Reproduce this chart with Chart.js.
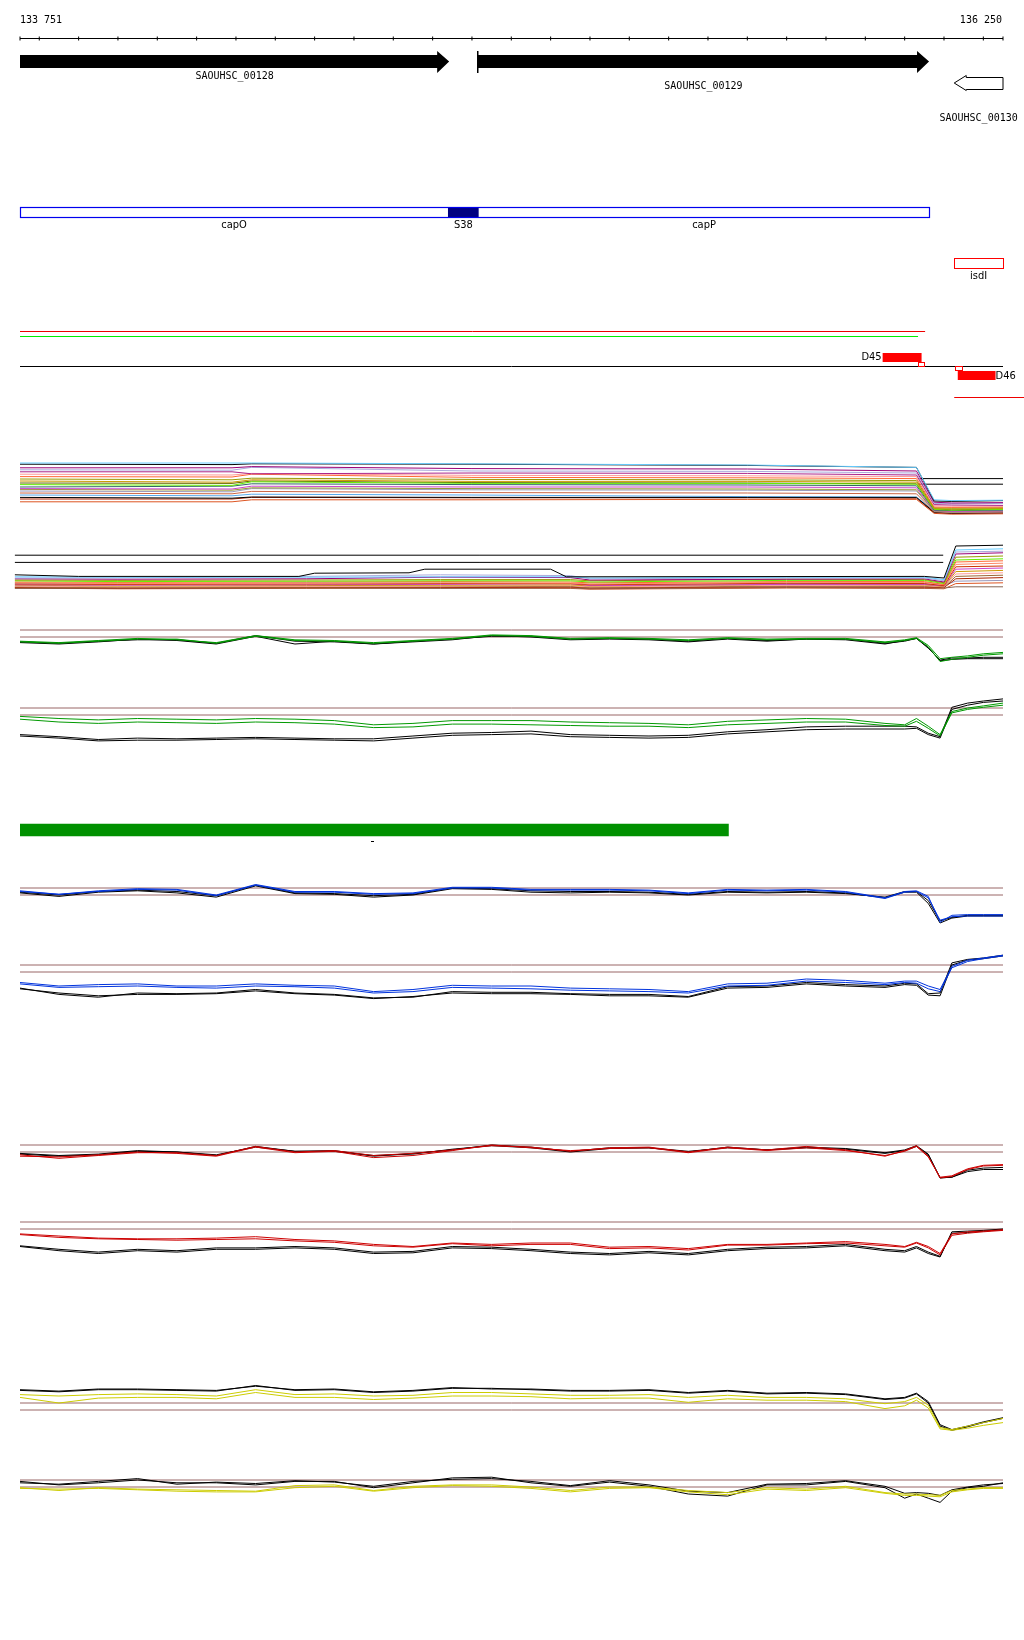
<!DOCTYPE html>
<html>
<head>
<meta charset="utf-8">
<script src="https://cdn.jsdelivr.net/npm/chart.js@4"></script>
<style>
  body { margin: 0; background: #fff; width: 1024px; height: 1640px; position: relative; overflow: hidden; }
  canvas { position: absolute; left: 0; }
</style>
</head>
<body>
<canvas id="topView" width="1024" height="420" style="top:0"></canvas>
<canvas id="bundle1" width="1024" height="68" style="top:451px"></canvas>
<canvas id="bundle2" width="1024" height="56" style="top:538px"></canvas>
<canvas id="g1" width="1024" height="70" style="top:602px"></canvas>
<canvas id="g2" width="1024" height="70" style="top:680px"></canvas>
<canvas id="hitBar" width="1024" height="36" style="top:812px"></canvas>
<canvas id="bl1" width="1024" height="70" style="top:860px"></canvas>
<canvas id="bl2" width="1024" height="70" style="top:937px"></canvas>
<canvas id="r1" width="1024" height="70" style="top:1117px"></canvas>
<canvas id="r2" width="1024" height="70" style="top:1194px"></canvas>
<canvas id="y1" width="1024" height="70" style="top:1375px"></canvas>
<canvas id="y2" width="1024" height="70" style="top:1452px"></canvas>
<script>
// Region shown
const rangeStart = 133751;
const rangeEnd = 136250;
const rulerLabels = ['133 751', '136 250'];
const rulerTicks = [133751, 133800, 133900, 134000, 134100, 134200, 134300, 134400, 134500, 134600,
  134700, 134800, 134900, 135000, 135100, 135200, 135300, 135400, 135500, 135600, 135700,
  135800, 135900, 136000, 136100, 136200, 136250];

// Genes
const geneNames = ['SAOUHSC_00128', 'SAOUHSC_00129', 'SAOUHSC_00130'];
const geneStart = [133751, 134915, 136126];
const geneEnd = [134842, 136062, 136250];
const geneStrand = ['+', '+', '-'];

// Features (cap operon + S38 + isdI)
const featNames = ['capO', 'S38', 'capP'];
const featStart = [133751, 134839, 134917];
const featEnd = [134839, 134917, 136063];
const isdName = 'isdI';
const isdStart = 136126;
const isdEnd = 136250;

// Transcripts
const tssNames = ['D45', 'D46'];
const tssStart = [135944, 136135];
const tssEnd = [136043, 136231];
const tssMarkStart = [136034, 136128];
const tssMarkEnd = [136050, 136145];
const redSpan = [133751, 136052];
const greenSpan = [133751, 136034];
const blackSpan = [133751, 136250];
const redLowSpan = [136126, 136304];

// Green hit bar
const hitSpan = [133751, 135552];
const hitMark = 134646;

// Multi-sample bundles
const b1Pos = [133751, 134290, 134340, 134900, 135600, 136030, 136075, 136120, 136250];
const b1Colors = ['#66ccff', '#000000', '#990077', '#aaaadd', '#aa2288', '#ff9999', '#ff6633', '#999900', '#cc9900', '#66ee00',
  '#336666', '#cc44cc', '#999933', '#9999bb', '#cc6644', '#000000', '#aa2200', '#55aaee', '#dd5522', '#666600'];
const b1Lines = [
  [11, 11, 11, 10.8, 10.5, 9.9, 1.8, 1.6, 1.7],
  [10.7, 10.6, 10.8, 10.7, 10.4, 9.9, 1.5, 1.4, 1.6],
  [9.8, 9.8, 10.1, 9.6, 9.5, 9.0, 1.2, 1.0, 1.1],
  [9.3, 9.2, 9.9, 9.0, 8.9, 8.5, 0.9, 0.8, 0.9],
  [8.8, 8.8, 8.3, 8.5, 8.4, 8.0, 0.6, 0.5, 0.4],
  [8.2, 8.0, 8.4, 7.9, 7.8, 7.6, 0.3, 0.2, 0.2],
  [7.6, 7.5, 8.2, 7.4, 7.3, 7.1, 0.0, -0.1, 0],
  [7.0, 6.8, 7.2, 6.9, 6.8, 6.6, -0.2, -0.3, -0.2],
  [6.5, 6.2, 6.8, 6.4, 6.4, 6.2, -0.4, -0.5, -0.4],
  [5.6, 5.4, 6.3, 5.9, 5.9, 5.7, -0.6, -0.8, -0.6],
  [5.0, 5.2, 5.8, 5.6, 5.5, 5.3, -0.8, -0.9, -0.8],
  [4.6, 4.5, 5.2, 5.0, 5.0, 4.8, -0.9, -1.1, -1.0],
  [4.4, 4.2, 4.8, 4.6, 4.5, 4.3, -1.0, -1.2, -1.1],
  [4.0, 3.8, 4.6, 4.3, 4.2, 4.0, -1.1, -1.3, -1.2],
  [3.5, 3.3, 3.9, 3.6, 3.5, 3.3, -1.2, -1.4, -1.3],
  [2.4, 2.2, 2.5, 2.4, 2.4, 2.4, -1.3, -1.5, -1.4],
  [2.0, 2.0, 2.4, 2.3, 2.3, 2.2, -1.4, -1.6, -1.5],
  [3.0, 2.8, 3.2, 3.0, 2.6, 2.5, -1.0, -1.2, -1.1],
  [1.3, 1.3, 1.8, 1.8, 1.9, 1.9, -1.6, -1.8, -1.7],
  [6.0, 5.9, 6.5, 6.1, 6.0, 5.8, -0.5, -0.7, -0.5]
];
const b1RefPos = [136035, 136250];
const b1RefLevels = [7.1, 5.7];

const b2Pos = [133738, 134000, 134480, 134820, 135150, 135200, 135700, 136050, 136100, 136130, 136250];
const b2Colors = ['#66ccff', '#aaaadd', '#990077', '#999900', '#66ee00', '#ff6633', '#ff8866', '#cc3300',
  '#cc44cc', '#cc9900', '#ff9999', '#996633', '#aa2200', '#9999bb', '#886655', '#dd5522'];
const b2Lines = [
  [3.3, 3.2, 3.2, 3.3, 3.3, 3.0, 3.2, 3.2, 2.6, 10.0, 10.3],
  [3.0, 3.0, 3.4, 3.8, 3.6, 2.8, 3.0, 3.0, 2.3, 9.5, 9.7],
  [2.8, 2.7, 2.8, 3.2, 3.1, 2.5, 2.7, 2.8, 2.0, 9.0, 9.3],
  [2.5, 2.4, 2.5, 2.6, 2.6, 2.3, 2.7, 2.6, 1.8, 8.2, 8.5],
  [2.3, 2.1, 2.2, 2.3, 2.3, 2.0, 2.4, 2.4, 1.6, 7.5, 7.8],
  [2.0, 1.9, 2.0, 2.1, 2.0, 1.8, 2.1, 2.1, 1.4, 7.0, 7.3],
  [1.8, 1.6, 1.7, 1.8, 1.7, 1.5, 1.9, 1.9, 1.3, 6.4, 6.7],
  [1.5, 1.4, 1.5, 1.6, 1.6, 1.3, 1.7, 1.6, 1.1, 5.8, 6.0],
  [1.3, 1.2, 1.3, 1.4, 1.6, 1.1, 1.4, 1.4, 1.0, 5.2, 5.5],
  [1.2, 1.0, 1.1, 1.2, 1.3, 1.0, 1.4, 1.3, 0.9, 4.6, 4.9],
  [1.0, 0.8, 0.9, 1.0, 1.1, 0.8, 1.2, 1.1, 0.8, 4.0, 4.3],
  [0.8, 0.6, 0.7, 0.8, 0.9, 0.6, 1.0, 0.9, 0.7, 3.4, 3.7],
  [0.6, 0.5, 0.6, 0.6, 0.7, 0.5, 0.8, 0.7, 0.6, 2.8, 3.1],
  [1.7, 1.5, 1.8, 1.7, 1.6, 1.4, 1.6, 1.6, 1.2, 2.2, 2.4],
  [0.4, 0.4, 0.5, 0.4, 0.5, 0.3, 0.6, 0.5, 0.5, 0.8, 0.8],
  [0.5, 0.3, 0.4, 0.5, 0.4, 0.2, 0.5, 0.4, 0.3, 1.6, 1.8]
];
// top (black) sample of bundle 2, with its bump over capO/capP
const b2TopPos = [133738, 133900, 134460, 134500, 134740, 134780, 135100, 135140, 136050, 136100, 136130, 136250];
const b2TopVals = [3.8, 3.4, 3.4, 4.2, 4.3, 5.2, 5.2, 3.3, 3.4, 3.0, 11.0, 11.2];
const b2RefPos = [133738, 136098];
const b2RefLevels = [8.7, 6.9];

// Condition tracks: shared positions, thresholds at 0 and 1
const gridPos = [133751, 133850, 133950, 134050, 134150, 134250, 134350, 134450, 134550, 134650, 134750,
  134850, 134950, 135050, 135150, 135250, 135350, 135450, 135550, 135650, 135750, 135850, 135950,
  136000, 136030, 136060, 136090, 136120, 136160, 136200, 136250];
const thresholds = [0, 1];

const g1Col1 = [-0.7,-0.9,-0.6,-0.3,-0.3,-0.9,0.1,-0.5,-0.6,-0.9,-0.6,-0.3,0.2,0.1,-0.3,-0.2,-0.3,-0.5,-0.2,-0.4,-0.3,-0.3,-0.8,-0.5,-0.2,-1.4,-3.5,-3.2,-2.9,-2.6,-2.4];
const g1Col2 = [-0.6,-0.8,-0.5,-0.2,-0.4,-0.8,0.2,-0.4,-0.5,-0.8,-0.5,-0.2,0.3,0.2,-0.2,-0.1,-0.2,-0.4,-0.1,-0.3,-0.2,-0.2,-0.7,-0.4,-0.1,-1.2,-3.1,-2.9,-2.7,-2.4,-2.2];
const g1Ref1 = [-0.8,-1.0,-0.7,-0.3,-0.5,-1.0,0.1,-1.0,-0.6,-1.0,-0.7,-0.4,0.2,0.0,-0.4,-0.3,-0.4,-0.7,-0.3,-0.6,-0.3,-0.4,-1.0,-0.5,-0.2,-1.6,-3.3,-3.0,-3.0,-2.9,-2.9];
const g1Ref2 = [-0.7,-0.9,-0.6,-0.4,-0.4,-0.9,0.2,-0.6,-0.7,-1.0,-0.6,-0.3,0.1,0.1,-0.3,-0.2,-0.3,-0.6,-0.2,-0.5,-0.3,-0.3,-0.9,-0.6,-0.2,-1.5,-3.4,-3.2,-3.1,-3.1,-3.1];

const g2Col1 = [-0.2,-0.5,-0.7,-0.5,-0.6,-0.7,-0.5,-0.6,-0.8,-1.4,-1.2,-0.8,-0.8,-0.8,-1.0,-1.1,-1.2,-1.4,-0.9,-0.7,-0.5,-0.6,-1.2,-1.4,-0.5,-1.6,-2.8,0.5,1.0,1.3,1.7];
const g2Col2 = [-0.6,-1.0,-1.2,-1.0,-1.1,-1.2,-1.0,-1.1,-1.3,-1.8,-1.7,-1.3,-1.3,-1.4,-1.5,-1.6,-1.6,-1.8,-1.4,-1.2,-1.0,-1.0,-1.5,-1.6,-0.9,-1.9,-3.0,0.3,0.8,1.1,1.4];
const g2Ref1 = [-2.8,-3.1,-3.5,-3.3,-3.4,-3.3,-3.2,-3.3,-3.4,-3.4,-3.0,-2.6,-2.5,-2.3,-2.8,-2.9,-3.0,-2.9,-2.4,-2.1,-1.7,-1.6,-1.6,-1.6,-1.7,-2.6,-3.1,1.1,1.7,2.0,2.3];
const g2Ref2 = [-3.0,-3.3,-3.7,-3.6,-3.6,-3.5,-3.4,-3.5,-3.6,-3.7,-3.3,-2.9,-2.8,-2.7,-3.1,-3.2,-3.3,-3.2,-2.7,-2.4,-2.1,-2.0,-2.0,-2.0,-1.9,-2.8,-3.3,0.8,1.4,1.8,2.0];

const bl1Col1 = [0.6,0.1,0.6,0.9,0.8,0.0,1.5,0.5,0.5,0.2,0.3,1.1,1.1,0.8,0.8,0.8,0.7,0.3,0.8,0.7,0.8,0.5,-0.4,0.5,0.6,-0.2,-3.9,-2.9,-2.8,-2.8,-2.8];
const bl1Col2 = [0.5,0.1,0.5,0.8,0.7,-0.1,1.4,0.4,0.4,0.1,0.2,1.0,1.0,0.7,0.7,0.7,0.6,0.2,0.7,0.6,0.7,0.4,-0.5,0.4,0.5,-0.4,-3.6,-3.1,-3.0,-3.0,-3.0];
const bl1Ref1 = [0.3,-0.2,0.4,0.6,0.3,-0.3,1.3,0.2,0.1,-0.3,0.0,0.9,0.8,0.4,0.3,0.4,0.3,0.0,0.4,0.3,0.4,0.2,-0.3,0.5,0.5,-0.8,-3.7,-3.2,-2.9,-2.9,-2.9];
const bl1Ref2 = [0.4,0.0,0.5,0.7,0.5,-0.1,1.4,0.3,0.2,-0.1,0.1,1.0,0.9,0.6,0.5,0.5,0.4,0.1,0.5,0.4,0.5,0.3,-0.4,0.4,0.4,-1.2,-4.0,-3.3,-3.0,-3.0,-3.0];

const bl2Col1 = [-1.5,-2.0,-1.8,-1.7,-2.0,-2.0,-1.7,-1.9,-2.0,-2.8,-2.5,-1.9,-2.0,-2.0,-2.3,-2.4,-2.5,-2.8,-1.7,-1.6,-1.0,-1.2,-1.6,-1.3,-1.3,-2.0,-2.5,0.8,1.7,2.0,2.4];
const bl2Col2 = [-1.7,-2.2,-2.1,-2.0,-2.2,-2.3,-2.0,-2.1,-2.3,-3.0,-2.8,-2.2,-2.3,-2.4,-2.6,-2.7,-2.8,-3.0,-2.0,-1.9,-1.3,-1.5,-1.8,-1.5,-1.6,-2.4,-2.8,0.6,1.5,1.9,2.3];
const bl2Ref1 = [-2.3,-3.2,-3.6,-3.0,-3.1,-3.0,-2.5,-3.0,-3.2,-3.7,-3.6,-2.8,-2.9,-2.9,-3.1,-3.2,-3.2,-3.5,-2.1,-2.0,-1.5,-1.8,-2.0,-1.6,-1.7,-3.1,-3.0,1.3,1.8,2.0,2.4];
const bl2Ref2 = [-2.4,-3.0,-3.4,-3.2,-3.2,-3.1,-2.7,-3.1,-3.3,-3.8,-3.5,-3.0,-3.1,-3.1,-3.2,-3.4,-3.4,-3.6,-2.3,-2.2,-1.7,-2.0,-2.2,-1.8,-1.9,-3.3,-3.4,1.0,1.7,1.9,2.3];

const r1Col1 = [-0.4,-0.9,-0.5,-0.1,-0.1,-0.5,0.8,0.0,0.2,-0.5,-0.2,0.3,0.9,0.7,0.1,0.6,0.7,0.0,0.7,0.3,0.8,0.3,-0.6,0.2,0.9,-0.6,-3.7,-3.5,-2.5,-2.0,-1.9];
const r1Col2 = [-0.6,-0.7,-0.4,0.0,-0.2,-0.6,0.7,-0.1,0.1,-0.8,-0.5,0.2,1.0,0.6,0.2,0.5,0.6,-0.1,0.6,0.2,0.6,0.2,-0.5,0.1,0.8,-0.7,-3.6,-3.4,-2.4,-1.9,-1.8];
const r1Ref1 = [-0.3,-0.6,-0.4,0.1,0.0,-0.5,0.8,0.1,0.2,-0.6,-0.2,0.3,1.0,0.7,0.1,0.6,0.6,0.0,0.7,0.3,0.7,0.5,-0.1,0.3,0.9,-0.3,-3.7,-3.6,-2.6,-2.3,-2.2];
const r1Ref2 = [-0.2,-0.5,-0.3,0.2,0.0,-0.4,0.7,0.1,0.1,-0.5,-0.3,0.4,0.9,0.6,0.0,0.5,0.6,0.1,0.6,0.3,0.6,0.4,-0.2,0.2,0.8,-0.4,-3.7,-3.6,-2.8,-2.5,-2.5];

const r2Col1 = [-0.7,-1.0,-1.3,-1.4,-1.4,-1.3,-1.1,-1.5,-1.7,-2.2,-2.5,-2.0,-2.2,-2.0,-2.0,-2.6,-2.5,-2.8,-2.2,-2.2,-2.0,-1.8,-2.2,-2.5,-1.9,-2.5,-3.5,-0.7,-0.4,-0.3,-0.1];
const r2Col2 = [-0.8,-1.2,-1.4,-1.5,-1.6,-1.5,-1.4,-1.7,-1.9,-2.4,-2.6,-2.1,-2.4,-2.2,-2.2,-2.8,-2.7,-3.0,-2.3,-2.3,-2.1,-2.0,-2.4,-2.6,-2.0,-2.7,-3.7,-0.9,-0.6,-0.4,-0.2];
const r2Ref1 = [-2.4,-2.9,-3.3,-2.9,-3.1,-2.7,-2.7,-2.5,-2.7,-3.3,-3.2,-2.5,-2.6,-2.9,-3.3,-3.5,-3.2,-3.5,-2.9,-2.6,-2.5,-2.2,-2.9,-3.1,-2.5,-3.3,-3.9,-0.6,-0.5,-0.3,-0.1];
const r2Ref2 = [-2.5,-3.1,-3.5,-3.1,-3.3,-2.9,-2.9,-2.7,-2.9,-3.5,-3.4,-2.7,-2.8,-3.1,-3.5,-3.7,-3.4,-3.7,-3.1,-2.8,-2.7,-2.4,-3.1,-3.3,-2.7,-3.5,-4.0,-0.4,-0.3,-0.2,0.0];

const y1Col1 = [2.2,2.0,2.2,2.3,2.2,2.0,2.9,2.2,2.3,2.0,2.1,2.5,2.5,2.3,2.1,2.1,2.2,1.8,2.1,1.8,1.8,1.6,0.9,1.2,1.8,0.7,-2.5,-2.8,-2.3,-1.8,-1.2];
const y1Col2 = [1.8,1.0,1.7,1.8,1.8,1.6,2.5,1.8,1.8,1.5,1.7,2.0,2.0,1.9,1.6,1.7,1.7,1.1,1.6,1.4,1.4,1.2,0.2,0.6,1.4,0.3,-2.7,-2.9,-2.6,-2.2,-1.8];
const y1Ref1 = [2.8,2.6,2.9,2.9,2.8,2.7,3.5,2.8,2.9,2.5,2.7,3.1,3.1,2.9,2.7,2.7,2.8,2.4,2.7,2.3,2.4,2.2,1.5,1.7,2.3,1.0,-2.3,-2.9,-2.4,-1.8,-1.2];
const y1Ref2 = [2.9,2.7,3.0,3.0,2.9,2.8,3.4,2.9,3.0,2.6,2.8,3.2,3.0,3.0,2.8,2.8,2.9,2.5,2.8,2.4,2.5,2.3,1.6,1.8,2.4,1.2,-2.1,-2.8,-2.3,-1.7,-1.1];

const y2Col1 = [-0.1,-0.5,-0.1,-0.3,-0.4,-0.5,-0.6,0.2,0.3,-0.5,0.1,0.3,0.3,0.0,-0.5,0.0,0.0,-0.5,-0.8,-0.1,-0.3,0.1,-0.8,-1.0,-1.0,-1.1,-1.2,-0.5,-0.3,-0.1,-0.1];
const y2Col2 = [-0.2,-0.3,-0.2,-0.4,-0.6,-0.7,-0.7,-0.1,0.1,-0.6,-0.1,0.2,0.1,-0.2,-0.7,-0.2,-0.1,-0.7,-1.1,-0.3,-0.5,-0.1,-0.9,-1.2,-1.2,-1.3,-1.4,-0.7,-0.4,-0.2,-0.2];
const y2Ref1 = [0.8,0.3,0.6,1.0,0.6,0.6,0.3,0.8,0.8,-0.1,0.6,1.3,1.4,0.6,0.1,0.7,0.1,-1.0,-1.3,0.3,0.3,0.8,-0.1,-1.6,-1.0,-1.6,-2.2,-0.6,-0.1,0.1,0.6];
const y2Ref2 = [0.6,0.4,0.8,1.2,0.4,0.7,0.5,0.9,0.7,0.1,0.8,1.1,1.2,0.8,0.2,0.9,0.3,-0.6,-0.8,0.4,0.5,0.9,0.1,-0.9,-0.8,-0.9,-1.2,-0.4,0.0,0.3,0.5];

// Layout (pixel rows inside the top view, sizes, styles)
const L = {
  rulerText: 20.5, ruler: 38.5, tick: 2,
  geneBody: [[55, 68], [55, 68], [77, 89]],
  geneHead: [[51, 73], [51, 73], [75.5, 90.5]],
  geneLabel: [76.5, 86, 118.5],
  geneStartMark: [false, true, false],
  headLen: 12,
  featTop: 207.5, featBot: 217.5, featLabel: 225,
  isdTop: 258.5, isdBot: 268.5, isdLabel: 276,
  redLine: 331.5, greenLine: 336.5, blackLine: 366.5, redLowLine: 397.5,
  tssBox: [[353, 362], [371, 380]], tssMark: [[362.5, 366.5], [366.5, 370.5]], tssLabel: [357.5, 376]
};
const MONO = '10px "DejaVu Sans Mono", monospace';
const NARROW = '11px "Liberation Sans Narrow", "DejaVu Sans Condensed", sans-serif';
const PAD = { left: 20, right: 21, top: 0, bottom: 0 };

function baseOptions(yMin, yMax, reverse) {
  return {
    responsive: false,
    animation: false,
    events: [],
    layout: { padding: PAD, autoPadding: false },
    plugins: { legend: { display: false }, tooltip: { enabled: false } },
    elements: { point: { radius: 0 }, line: { borderWidth: 1, tension: 0 } },
    scales: {
      x: { type: 'linear', min: rangeStart, max: rangeEnd, display: false },
      y: { type: 'linear', min: yMin, max: yMax, reverse: !!reverse, display: false }
    }
  };
}

function lineSet(xs, ys, color, width) {
  return {
    data: xs.map((p, i) => ({ x: p, y: ys[i] })),
    borderColor: color, borderWidth: width || 1, pointRadius: 0, clip: false, fill: false
  };
}

// Top view: ruler, genes, features, transcripts
const topLayer = {
  id: 'topLayer',
  afterDatasetsDraw(chart) {
    const ctx = chart.ctx;
    const X = v => chart.scales.x.getPixelForValue(v);
    const Y = v => chart.scales.y.getPixelForValue(v);
    ctx.save();
    ctx.fillStyle = '#000';
    ctx.textBaseline = 'middle';
    ctx.font = MONO;
    ctx.textAlign = 'left';
    ctx.fillText(rulerLabels[0], X(rangeStart), Y(L.rulerText));
    ctx.textAlign = 'right';
    ctx.fillText(rulerLabels[1], X(rangeEnd) - 1, Y(L.rulerText));

    // gene arrows
    geneNames.forEach((name, i) => {
      const s = X(geneStart[i]), e = X(geneEnd[i]);
      const [t, b] = L.geneBody[i].map(Y), [ht, hb] = L.geneHead[i].map(Y);
      const mid = (t + b) / 2;
      ctx.beginPath();
      if (geneStrand[i] === '+') {
        const h = e - L.headLen;
        ctx.moveTo(s, t); ctx.lineTo(h, t); ctx.lineTo(h, ht); ctx.lineTo(e, mid);
        ctx.lineTo(h, hb); ctx.lineTo(h, b); ctx.lineTo(s, b); ctx.closePath();
        ctx.fillStyle = '#000'; ctx.fill();
      } else {
        const h = s + L.headLen;
        ctx.moveTo(e, t + 0.5); ctx.lineTo(h, t + 0.5); ctx.lineTo(h, ht); ctx.lineTo(s, mid);
        ctx.lineTo(h, hb); ctx.lineTo(h, b + 0.5); ctx.lineTo(e, b + 0.5); ctx.closePath();
        ctx.fillStyle = '#fff'; ctx.fill();
        ctx.strokeStyle = '#000'; ctx.lineWidth = 1; ctx.stroke();
      }
      if (L.geneStartMark[i]) {
        ctx.fillStyle = '#000';
        ctx.fillRect(Math.round(s) - 1, ht, 1.5, hb - ht);
      }
      ctx.fillStyle = '#000';
      ctx.font = MONO; ctx.textAlign = 'center';
      ctx.fillText(name, (s + e) / 2, Y(L.geneLabel[i]));
    });

    // cap features
    const fs = X(featStart[0]), fe = X(featEnd[featEnd.length - 1]);
    ctx.fillStyle = '#000080';
    ctx.fillRect(X(featStart[1]), Y(L.featTop) - 0.5, X(featEnd[1]) - X(featStart[1]), L.featBot - L.featTop + 1);
    ctx.strokeStyle = '#0000ee'; ctx.lineWidth = 1.2;
    ctx.strokeRect(Math.round(fs) + 0.5, Y(L.featTop), Math.round(fe - fs), L.featBot - L.featTop);
    ctx.fillStyle = '#000'; ctx.font = NARROW; ctx.textAlign = 'center';
    featNames.forEach((n, i) => ctx.fillText(n, (X(featStart[i]) + X(featEnd[i])) / 2, Y(L.featLabel)));

    // isdI
    ctx.strokeStyle = '#ff0000'; ctx.lineWidth = 1;
    ctx.strokeRect(Math.round(X(isdStart)) + 0.5, Y(L.isdTop), Math.round(X(isdEnd) - X(isdStart)), L.isdBot - L.isdTop);
    ctx.fillText(isdName, (X(isdStart) + X(isdEnd)) / 2, Y(L.isdLabel));

    // transcripts D45 / D46
    tssNames.forEach((n, i) => {
      const s = X(tssStart[i]), e = X(tssEnd[i]);
      const [t, b] = L.tssBox[i].map(Y);
      ctx.fillStyle = '#ff0000';
      ctx.fillRect(s, t, e - s, b - t);
      const [mt, mb] = L.tssMark[i].map(Y);
      ctx.strokeStyle = '#ff0000'; ctx.lineWidth = 1;
      ctx.strokeRect(Math.round(X(tssMarkStart[i])) + 0.5, mt, Math.round(X(tssMarkEnd[i]) - X(tssMarkStart[i])), mb - mt);
      ctx.fillStyle = '#000'; ctx.font = NARROW;
      if (i === 0) { ctx.textAlign = 'right'; ctx.fillText(n, s - 1, Y(L.tssLabel[i])); }
      else { ctx.textAlign = 'left'; ctx.fillText(n, e, Y(L.tssLabel[i])); }
    });
    ctx.restore();
  }
};

new Chart(document.getElementById('topView'), {
  type: 'line',
  data: {
    datasets: [
      lineSet([rangeStart, rangeEnd], [L.ruler, L.ruler], '#000'),
      {
        type: 'scatter',
        data: rulerTicks.map(t => ({ x: t, y: L.ruler })),
        pointStyle: 'line', rotation: 90, radius: L.tick, borderColor: '#000', borderWidth: 1, clip: false
      },
      lineSet(redSpan, [L.redLine, L.redLine], '#ee0000'),
      lineSet(greenSpan, [L.greenLine, L.greenLine], '#00ee00'),
      lineSet(blackSpan, [L.blackLine, L.blackLine], '#000'),
      lineSet(redLowSpan, [L.redLowLine, L.redLowLine], '#ee0000')
    ]
  },
  options: baseOptions(0, 420, true),
  plugins: [topLayer]
});

// Bundles of samples
function bundleChart(id, pos, lines, colors, refPos, refLevels, yMin, yMax, extra) {
  const sets = (extra || []).concat(lines.map((v, i) => lineSet(pos, v, colors[i])));
  refLevels.forEach(lv => sets.push(lineSet(refPos, [lv, lv], '#000')));
  new Chart(document.getElementById(id), {
    type: 'line', data: { datasets: sets }, options: baseOptions(yMin, yMax)
  });
}
bundleChart('bundle1', b1Pos, b1Lines, b1Colors, b1RefPos, b1RefLevels, -3, 14);
bundleChart('bundle2', b2Pos, b2Lines, b2Colors, b2RefPos, b2RefLevels, -1, 13,
  [lineSet(b2TopPos, b2TopVals, '#000')]);

// Condition tracks
function condChart(id, color, col1, col2, ref1, ref2) {
  const sets = [
    lineSet(gridPos, col1, color), lineSet(gridPos, col2, color),
    lineSet(gridPos, ref1, '#000'), lineSet(gridPos, ref2, '#000')
  ];
  thresholds.forEach(t => sets.push(lineSet([rangeStart, rangeEnd], [t, t], '#996666')));
  new Chart(document.getElementById(id), {
    type: 'line', data: { datasets: sets }, options: baseOptions(-5, 5)
  });
}
condChart('g1', '#009900', g1Col1, g1Col2, g1Ref1, g1Ref2);
condChart('g2', '#009900', g2Col1, g2Col2, g2Ref1, g2Ref2);
condChart('bl1', '#0033dd', bl1Col1, bl1Col2, bl1Ref1, bl1Ref2);
condChart('bl2', '#0033dd', bl2Col1, bl2Col2, bl2Ref1, bl2Ref2);
condChart('r1', '#cc0000', r1Col1, r1Col2, r1Ref1, r1Ref2);
condChart('r2', '#cc0000', r2Col1, r2Col2, r2Ref1, r2Ref2);
condChart('y1', '#cccc00', y1Col1, y1Col2, y1Ref1, y1Ref2);
condChart('y2', '#cccc00', y2Col1, y2Col2, y2Ref1, y2Ref2);

// Green hit bar
const hitMarkPlugin = {
  id: 'hitMark',
  afterDatasetsDraw(chart) {
    const ctx = chart.ctx, x = chart.scales.x.getPixelForValue(hitMark);
    ctx.fillStyle = '#000';
    ctx.fillRect(Math.round(x) - 1, 29, 3, 1);
  }
};
new Chart(document.getElementById('hitBar'), {
  type: 'bar',
  data: {
    labels: ['hit'],
    datasets: [{ data: [hitSpan], backgroundColor: '#009000', barThickness: 12 }]
  },
  options: {
    indexAxis: 'y',
    responsive: false, animation: false, events: [],
    layout: { padding: PAD, autoPadding: false },
    plugins: { legend: { display: false }, tooltip: { enabled: false } },
    scales: {
      x: { type: 'linear', min: rangeStart, max: rangeEnd, display: false },
      y: { display: false }
    }
  },
  plugins: [hitMarkPlugin]
});
</script>
</body>
</html>
